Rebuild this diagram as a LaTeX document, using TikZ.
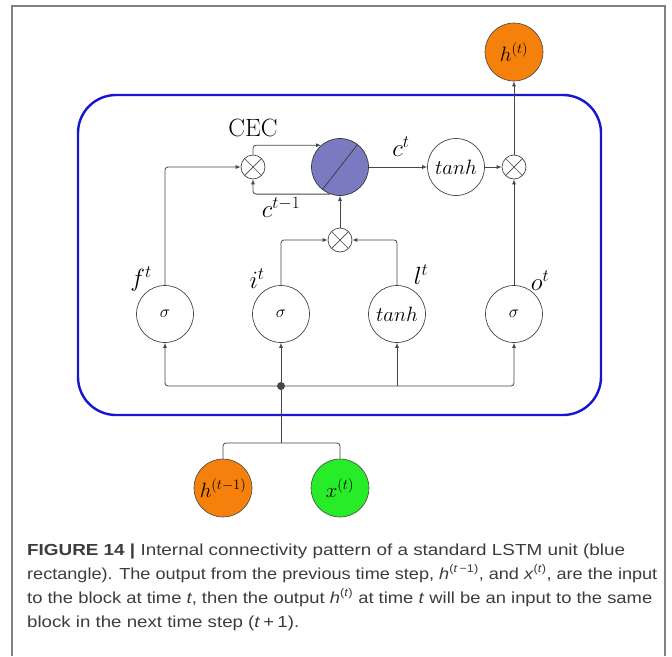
\documentclass[tikz,border=0pt]{standalone}
\usepackage{fontspec}
\usepackage{graphicx}
\usetikzlibrary{arrows.meta}
\newfontfamily\capfont{Liberation Sans}
\definecolor{cecfill}{RGB}{122,122,192}
\definecolor{inorange}{RGB}{245,128,12}
\definecolor{ingreen}{RGB}{40,236,40}
\definecolor{cellblue}{RGB}{22,22,208}
\definecolor{linec}{RGB}{70,70,70}
\definecolor{framec}{RGB}{128,128,128}
\definecolor{captc}{RGB}{60,60,60}

\begin{document}
\begin{tikzpicture}[x=1pt,y=-1pt,
  conn/.style={draw=linec, line width=0.8pt, rounded corners=3pt,
    -{Latex[length=5pt,width=4pt]}},
  wire/.style={draw=linec, line width=0.8pt, rounded corners=3pt},
  gate/.style={circle, draw=linec, line width=0.7pt, fill=white,
    minimum size=57pt, inner sep=0pt},
  mult/.style={circle, draw=linec, line width=0.7pt, fill=white,
    minimum size=24pt, inner sep=0pt,
    path picture={\draw[linec, line width=0.7pt]
      (path picture bounding box.north west) -- (path picture bounding box.south east)
      (path picture bounding box.north east) -- (path picture bounding box.south west);}},
  cecnode/.style={circle, draw=linec!80!black, line width=0.7pt, fill=cecfill,
    minimum size=57pt, inner sep=0pt,
    path picture={\draw[linec!80!black, line width=0.7pt]
      (path picture bounding box.center) ++(52:-40pt) -- ++(52:80pt);}},
  io/.style={circle, draw=linec, line width=0.6pt, minimum size=58pt, inner sep=0pt,
    font=\fontsize{21}{24}\selectfont},
  lbl/.style={inner sep=0pt, font=\fontsize{24}{28}\selectfont},
  sig/.style={font=\fontsize{17}{20}\selectfont},
  tnh/.style={font=\fontsize{20}{24}\selectfont},
  capline/.style={anchor=base west, inner sep=0pt, text=captc,
    font=\capfont\fontsize{16}{20}\selectfont}
]
\useasboundingbox (0,0) rectangle (672,656);

% outer frame, open at the bottom
\draw[framec, line width=2pt] (12,656) -- (12,6) -- (665,6) -- (665,656);

% the LSTM block
\draw[cellblue, line width=2.4pt, rounded corners=38pt] (78,95) rectangle (601,415);

% top row: cell state path
\node[mult] (mL) at (253,167) {};
\node[cecnode] (cec) at (340,167) {};
\node[gate, font=\fontsize{22}{26}\selectfont] (tc) at (456,167) {$tanh$};
\node[mult] (mR) at (514,167) {};
\node[io, fill=inorange] (ht) at (514,52) {$h^{(t)}$};
\node[lbl, font=\fontsize{25}{29}\selectfont] (ceclbl) at (253,128) {CEC};

% input product
\node[mult] (mM) at (340,240) {};

% gates
\node[gate, sig] (fg) at (165,314) {$\sigma$};
\node[gate, sig] (ig) at (281,314) {$\sigma$};
\node[gate, tnh] (lg) at (397,314) {$tanh$};
\node[gate, sig] (og) at (514,314) {$\sigma$};

\node[lbl] (flbl) at (141,279) {$f^t$};
\node[lbl] (ilbl) at (257,279) {$i^t$};
\node[lbl] (llbl) at (421,275) {$l^t$};
\node[lbl] (olbl) at (540,281) {$o^t$};
\node[lbl] (ctlbl) at (401,147) {$c^t$};
\node[lbl] (cprev) at (281,207) {$c^{t-1}$};

% inputs
\node[circle, fill=linec, inner sep=0pt, minimum size=8pt] (dot) at (281,386) {};
\coordinate (split) at (281,443);
\node[io, fill=inorange] (hin) at (223,488) {$h^{(t-1)}$};
\node[io, fill=ingreen] (xin) at (340,488) {$x^{(t)}$};

% connectors
\draw[conn] (fg.north) |- (mL.west);
\draw[conn] (mL.north) |- (cec.131);
\draw[conn] (cec.250) -| (mL.south);
\draw[conn] (mM.north) -- (cec.south);
\draw[conn] (ig.north) |- (mM.west);
\draw[conn] (lg.north) |- (mM.east);
\draw[conn] (cec.east) -- (tc.west);
\draw[conn] (tc.east) -- (mR.west);
\draw[conn] (mR.north) -- (ht.south);
\draw[conn] (og.north) -- (mR.south);

\draw[conn] (dot.center) -| (fg.south);
\draw[conn] (dot.north) -- (ig.south);
\draw[conn] (dot.center) -| (og.south);
\draw[conn, rounded corners=0pt] (lg.south |- dot.center) -- (lg.south);

\draw[wire] (hin.north) |- (split) -| (xin.north);
\draw[wire] (split) -- (dot.center);

% caption
\node[capline] (cap1) at (27,555) {\resizebox{598pt}{\height}{\textbf{FIGURE 14 |} Internal connectivity pattern of a standard LSTM unit (blue}};
\node[capline] (cap2) at (27,579) {\resizebox{630pt}{\height}{rectangle). The output from the previous time step, \textit{h}\textsuperscript{(\textit{t}\,−1)}, and \textit{x}\textsuperscript{(\textit{t})}, are the input}};
\node[capline] (cap3) at (27,603) {\resizebox{625pt}{\height}{to the block at time \textit{t}, then the output \textit{h}\textsuperscript{(\textit{t})} at time \textit{t} will be an input to the same}};
\node[capline] (cap4) at (27,627) {\resizebox{272pt}{\height}{block in the next time step (\textit{t}\,+\,1).}};
\end{tikzpicture}
\end{document}
